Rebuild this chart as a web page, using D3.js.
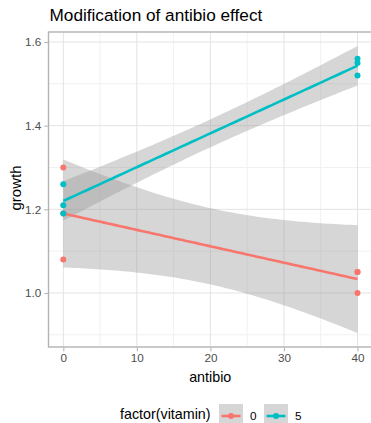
<!DOCTYPE html>
<html>
<head>
<meta charset="utf-8">
<script src="https://cdn.jsdelivr.net/npm/d3@7"></script>
<style>
  html, body { margin: 0; padding: 0; background: #fff; }
  svg { display: block; font-family: "Liberation Sans", Arial, sans-serif; }
</style>
</head>
<body>
<svg id="chart" width="371" height="423"></svg>
<script>
// Observations: antibiotic dose, vitamin group and measured growth
const antibio = [0, 0, 0, 40, 40, 40, 0, 0, 0, 40, 40, 40];
const vitamin = [0, 0, 0, 0, 0, 0, 5, 5, 5, 5, 5, 5];
const growth  = [1.30, 1.19, 1.08, 1.05, 1.05, 1.00, 1.26, 1.21, 1.19, 1.56, 1.55, 1.52];

const groups = [0, 5];
const groupColors = ["#F8766D", "#00BFC4"];
const xTicks = [0, 10, 20, 30, 40];
const xMinor = [5, 15, 25, 35];
const yTicks = [1.0, 1.2, 1.4, 1.6];
const yMinor = [0.9, 1.1, 1.3, 1.5];

const titleText = "Modification of antibio effect";
const xTitle = "antibio";
const yTitle = "growth";
const legendTitle = "factor(vitamin)";

// 95% t critical value for n - 2 = 4 degrees of freedom
const tCrit = 2.776445;

const svg = d3.select("#chart");
const panel = { left: 48.5, top: 32, bottom: 347, right: 372 };

const x = d3.scaleLinear().domain([0, 40]).range([63.3, 357.5]);
const y = d3.scaleLinear().domain([1.0, 1.6]).range([293, 42]);

const color = d3.scaleOrdinal().domain(groups).range(groupColors);

const points = antibio.map((a, i) => ({ antibio: a, vitamin: vitamin[i], growth: growth[i] }));

// Ordinary least squares fit with a confidence band, per group
function fitGroup(g) {
  const d = points.filter(p => p.vitamin === g);
  const n = d.length;
  const mx = d3.mean(d, p => p.antibio);
  const my = d3.mean(d, p => p.growth);
  const sxx = d3.sum(d, p => (p.antibio - mx) ** 2);
  const sxy = d3.sum(d, p => (p.antibio - mx) * (p.growth - my));
  const slope = sxy / sxx;
  const intercept = my - slope * mx;
  const sse = d3.sum(d, p => (p.growth - intercept - slope * p.antibio) ** 2);
  const sigma = Math.sqrt(sse / (n - 2));
  const xs = d3.range(0, 80).map(i => 40 * i / 79);
  const curve = xs.map(v => {
    const fit = intercept + slope * v;
    const se = sigma * Math.sqrt(1 / n + (v - mx) ** 2 / sxx);
    return { x: v, fit, lo: fit - tCrit * se, hi: fit + tCrit * se };
  });
  return { group: g, curve };
}
const fits = groups.map(fitGroup);

// Panel grid
const grid = svg.append("g");
grid.selectAll("line.xminor").data(xMinor).join("line")
  .attr("x1", d => x(d)).attr("x2", d => x(d))
  .attr("y1", panel.top).attr("y2", panel.bottom)
  .attr("stroke", "#f1f1f1").attr("stroke-width", 1);
grid.selectAll("line.yminor").data(yMinor).join("line")
  .attr("x1", panel.left).attr("x2", panel.right)
  .attr("y1", d => y(d)).attr("y2", d => y(d))
  .attr("stroke", "#f1f1f1").attr("stroke-width", 1);
grid.selectAll("line.xmajor").data(xTicks).join("line")
  .attr("x1", d => x(d)).attr("x2", d => x(d))
  .attr("y1", panel.top).attr("y2", panel.bottom)
  .attr("stroke", "#e3e3e3").attr("stroke-width", 1);
grid.selectAll("line.ymajor").data(yTicks).join("line")
  .attr("x1", panel.left).attr("x2", panel.right)
  .attr("y1", d => y(d)).attr("y2", d => y(d))
  .attr("stroke", "#e3e3e3").attr("stroke-width", 1);

// Confidence bands
const area = d3.area().x(d => x(d.x)).y0(d => y(d.lo)).y1(d => y(d.hi));
svg.append("g").selectAll("path").data(fits).join("path")
  .attr("d", d => area(d.curve))
  .attr("fill", "#999999").attr("fill-opacity", 0.4);

// Fitted lines
const line = d3.line().x(d => x(d.x)).y(d => y(d.fit));
svg.append("g").selectAll("path").data(fits).join("path")
  .attr("d", d => line(d.curve))
  .attr("fill", "none")
  .attr("stroke", d => color(d.group))
  .attr("stroke-width", 2.6);

// Points
svg.append("g").selectAll("circle").data(points).join("circle")
  .attr("cx", d => x(d.antibio)).attr("cy", d => y(d.growth))
  .attr("r", 3)
  .attr("fill", d => color(d.vitamin));

// Panel border
svg.append("rect")
  .attr("x", panel.left).attr("y", panel.top)
  .attr("width", panel.right - panel.left).attr("height", panel.bottom - panel.top)
  .attr("fill", "none").attr("stroke", "#b3b3b3").attr("stroke-width", 1.4);

// Axes
const xAxis = d3.axisBottom(x).tickValues(xTicks).tickSize(3.5).tickPadding(3).tickFormat(d3.format("d"));
const gx = svg.append("g").attr("transform", `translate(0,${panel.bottom + 0.7})`).call(xAxis);
const yAxis = d3.axisLeft(y).tickValues(yTicks).tickSize(3.5).tickPadding(3).tickFormat(d3.format(".1f"));
const gy = svg.append("g").attr("transform", `translate(${panel.left - 0.7},0)`).call(yAxis);
[gx, gy].forEach(g => {
  g.select(".domain").remove();
  g.selectAll(".tick line").attr("stroke", "#b3b3b3").attr("stroke-width", 1.1);
  g.selectAll(".tick text").attr("fill", "#4d4d4d")
    .style("font-size", "11.7px").style("font-family", "Liberation Sans, Arial, sans-serif");
});

// Titles
svg.append("text").attr("x", 49.5).attr("y", 21)
  .attr("fill", "#000").style("font-size", "17.2px").text(titleText);
svg.append("text").attr("x", (panel.left + panel.right) / 2).attr("y", 381.5)
  .attr("text-anchor", "middle").attr("fill", "#000").style("font-size", "14.3px").text(xTitle);
svg.append("text").attr("transform", `translate(20.5,${(panel.top + panel.bottom) / 2 - 1.5}) rotate(-90)`)
  .attr("text-anchor", "middle").attr("fill", "#000").style("font-size", "15px").text(yTitle);

// Legend
const legend = svg.append("g");
legend.append("text").attr("x", 120).attr("y", 418.5)
  .attr("fill", "#000").style("font-size", "14.3px").text(legendTitle);
const keyX = [219, 264];
const keys = legend.selectAll("g.key").data(groups).join("g")
  .attr("transform", (d, i) => `translate(${keyX[i]},404)`);
keys.append("rect").attr("width", 24).attr("height", 24)
  .attr("fill", "#999999").attr("fill-opacity", 0.4);
keys.append("line").attr("x1", 2.5).attr("x2", 21.5).attr("y1", 12).attr("y2", 12)
  .attr("stroke", d => color(d)).attr("stroke-width", 2.6);
keys.append("circle").attr("cx", 12).attr("cy", 12).attr("r", 3).attr("fill", d => color(d));
keys.append("text").attr("x", 31).attr("y", 16.2)
  .attr("fill", "#000").style("font-size", "11.7px").text(d => d);
</script>
</body>
</html>
